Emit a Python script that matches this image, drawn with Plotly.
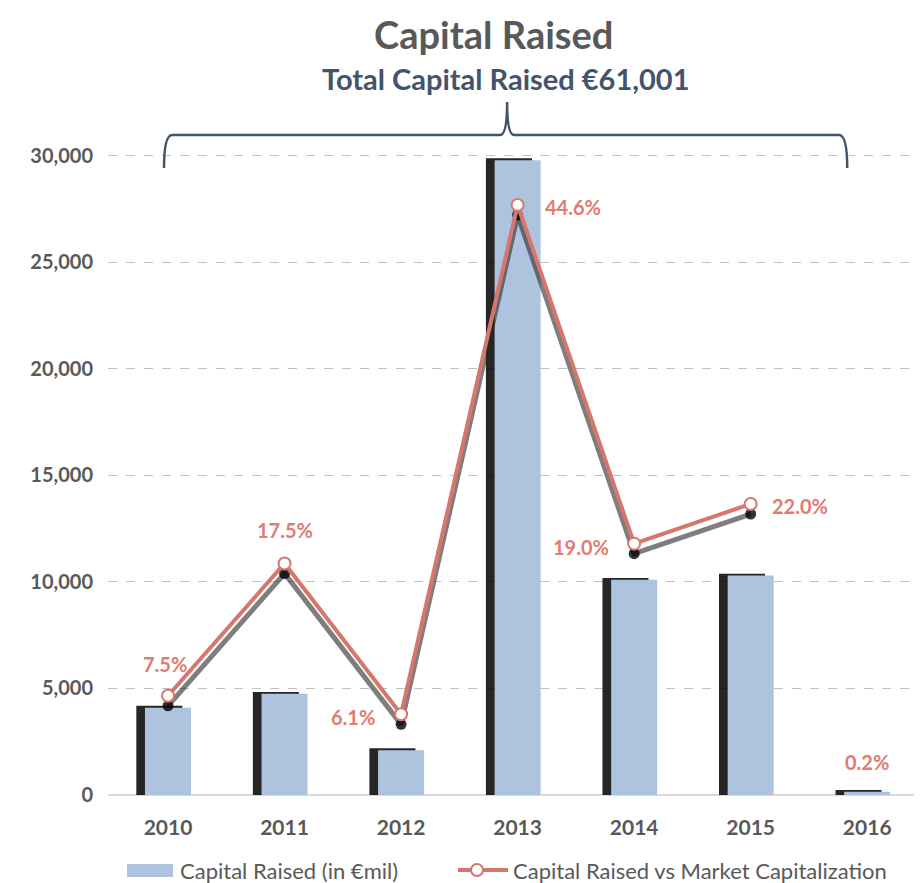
import plotly.graph_objects as go

years = [2010, 2011, 2012, 2013, 2014, 2015, 2016]
capital = [4100, 4750, 2100, 29800, 10100, 10300, 150]
pct = [7.5, 17.5, 6.1, 44.6, 19.0, 22.0, 0.2]
pct_labels = ["7.5%", "17.5%", "6.1%", "44.6%", "19.0%", "22.0%", "0.2%"]
y_ticks = [0, 5000, 10000, 15000, 20000, 25000, 30000]
title_text = "Capital Raised"
subtitle_text = "Total Capital Raised €61,001"
bar_name = "Capital Raised (in €mil)"
line_name = "Capital Raised vs Market Capitalization"

# label offsets in pixels (style only)
label_shift = [(-3, 32), (0, 33), (-48, -3), (55, -2), (-53, -3), (49, -2), (0, 30)]

BAR = "#AEC3DE"
LINE = "#D6776D"
LABEL = "#E07C72"
GREY = "#595959"
NAVY = "#44546A"
FONT = "Lato"

# page body has an 8px margin: build the figure 8px smaller
W, H = 914, 875
ML, MR, MT, MB = 100, 0, 84, 88
PH = H - MT - MB
PW = W - ML - MR

Y1_MAX = 33000
Y2_MAX = Y1_MAX / 621.0
line_shadow_shift = 0.76  # secondary-axis units (~10px)

fig = go.Figure()

# bar shadow
fig.add_trace(go.Bar(
    x=years, y=[v + 90 for v in capital], width=0.395, offset=-0.272,
    marker=dict(color="rgba(0,0,0,0.85)", line=dict(width=0)),
    showlegend=False, hoverinfo="skip"))
# bars
fig.add_trace(go.Bar(
    x=years, y=capital, width=0.395, offset=-0.1975,
    marker=dict(color=BAR, line=dict(width=0)),
    name=bar_name, showlegend=False))

# line shadow
fig.add_trace(go.Scatter(
    x=years[:6], y=[p - line_shadow_shift for p in pct[:6]], yaxis="y2",
    mode="lines+markers",
    line=dict(color="rgba(40,40,40,0.6)", width=5),
    marker=dict(size=11, color="rgba(0,0,0,0.8)"),
    showlegend=False, hoverinfo="skip"))
# line
fig.add_trace(go.Scatter(
    x=years[:6], y=pct[:6], yaxis="y2",
    mode="lines+markers",
    line=dict(color=LINE, width=4),
    marker=dict(size=12, color="white", line=dict(color=LINE, width=2)),
    name=line_name, showlegend=False))

# data labels
for yr, p, lab, (dx, dy) in zip(years, pct, pct_labels, label_shift):
    fig.add_annotation(x=yr, y=p, xref="x", yref="y2", text=f"<b>{lab}</b>",
                       showarrow=False, xshift=dx, yshift=dy,
                       font=dict(family=FONT, size=20, color=LABEL))

# curly brace (reference-pixel -> data)
def px2x(px):
    return 2010 + (px - 168) / 116.5

def py2y(py):
    return (795 - py) / 0.0213

xl, xr, xt = px2x(164), px2x(847), px2x(507)
ye, yh, yt = py2y(168), py2y(135), py2y(102)
dx = 0.07
dt = 0.06
path = (f"M {xl},{ye} Q {xl},{yh} {xl+dx},{yh} L {xt-dt},{yh} "
        f"Q {xt},{yh} {xt},{yt} Q {xt},{yh} {xt+dt},{yh} "
        f"L {xr-dx},{yh} Q {xr},{yh} {xr},{ye}")
fig.add_shape(type="path", path=path, xref="x", yref="y",
              line=dict(color=NAVY, width=2.5), layer="above")

# helpers: figure pixel -> paper
def fx(p):
    return (p - ML) / PW

def fy(p):
    return (MT + PH - p) / PH

# title & subtitle
fig.add_annotation(x=fx(485), y=fy(26), xref="paper", yref="paper",
                   text=f"<b>{title_text}</b>", showarrow=False,
                   xanchor="center", yanchor="middle",
                   font=dict(family=FONT, size=38, color=GREY))
fig.add_annotation(x=fx(497), y=fy(71), xref="paper", yref="paper",
                   text=f"<b>{subtitle_text}</b>", showarrow=False,
                   xanchor="center", yanchor="middle",
                   font=dict(family=FONT, size=29, color=NAVY))

# manual legend
ly = 862
fig.add_shape(type="rect", xref="paper", yref="paper",
              x0=fx(119), x1=fx(165), y0=fy(856), y1=fy(869),
              fillcolor=BAR, line=dict(width=0))
fig.add_annotation(x=fx(170), y=fy(ly), xref="paper", yref="paper",
                   text=bar_name, showarrow=False, xanchor="left", yanchor="middle",
                   font=dict(family=FONT, size=22, color=GREY))
fig.add_shape(type="line", xref="paper", yref="paper",
              x0=fx(450), x1=fx(500), y0=fy(ly), y1=fy(ly),
              line=dict(color=LINE, width=4))
fig.add_shape(type="circle", xref="paper", yref="paper",
              x0=fx(463), x1=fx(475), y0=fy(ly - 6), y1=fy(ly + 6),
              fillcolor="white", line=dict(color=LINE, width=2))
fig.add_annotation(x=fx(503), y=fy(ly), xref="paper", yref="paper",
                   text=line_name, showarrow=False, xanchor="left", yanchor="middle",
                   font=dict(family=FONT, size=22, color=GREY))

fig.update_layout(
    width=W, height=H,
    paper_bgcolor="white", plot_bgcolor="white",
    margin=dict(l=ML, r=MR, t=MT, b=MB),
    font=dict(family=FONT, color=GREY),
    barmode="overlay",
    showlegend=False,
    xaxis=dict(
        range=[2009.485, 2016.47], tickmode="array", tickvals=years,
        ticktext=[str(y) for y in years],
        tickfont=dict(family=FONT, size=21, color=GREY, weight="bold"),
        showgrid=False, zeroline=False, showline=False, ticks="",
        ticklabelstandoff=18),
    yaxis=dict(
        range=[0, Y1_MAX], tickmode="array", tickvals=y_ticks,
        ticktext=[f"{v:,}" for v in y_ticks],
        tickfont=dict(family=FONT, size=20, color=GREY, weight="bold"),
        showgrid=True, gridcolor="#C0C0C0", griddash="dash", gridwidth=1,
        zeroline=True, zerolinecolor="#D9D9D9", zerolinewidth=2,
        showline=False, ticks="", ticklabelstandoff=14),
    yaxis2=dict(range=[0, Y2_MAX], overlaying="y", side="right",
                visible=False, showgrid=False),
)

fig.write_html("out.html")
